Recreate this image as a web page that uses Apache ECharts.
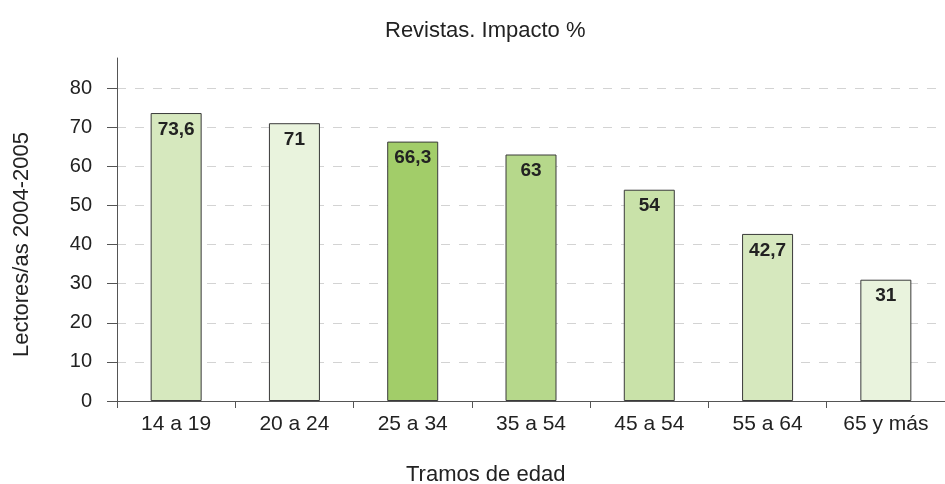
<!DOCTYPE html>
<html>
<head>
<meta charset="utf-8">
<script src="https://cdn.jsdelivr.net/npm/echarts@6/dist/echarts.min.js"></script>
<style>html,body{margin:0;padding:0;background:#fff}#c{width:945px;height:484px}</style>
</head>
<body>
<div id="c"></div>
<script>
const categories = ['14 a 19', '20 a 24', '25 a 34', '35 a 54', '45 a 54', '55 a 64', '65 y más'];
const values = [73.6, 71, 66.3, 63, 54, 42.7, 31];
const barColors = ['#d6e8be', '#e9f3dd', '#a2cd69', '#b6d88b', '#c9e2a9', '#d6e8be', '#e9f3dd'];
const yTicks = [0, 10, 20, 30, 40, 50, 60, 70, 80];

const chart = echarts.init(document.getElementById('c'));
const font = 'Liberation Sans, Helvetica, Arial, sans-serif';
chart.setOption({
  animation: false,
  title: [
    { text: 'Revistas. Impacto %', left: 380, top: 15, textStyle: { fontFamily: font, fontSize: 22, fontWeight: 'normal', color: '#222' } },
    { text: 'Tramos de edad', left: 401, top: 459, textStyle: { fontFamily: font, fontSize: 22, fontWeight: 'normal', color: '#222' } }
  ],
  grid: [
    { left: 117, top: 88, width: 836, height: 313 },
    { left: 117, top: 58, width: 836, height: 30 }
  ],
  xAxis: [
    {
      type: 'category', data: categories, gridIndex: 0,
      axisLine: { lineStyle: { color: '#555', width: 1 } },
      axisTick: { show: true, length: 7, lineStyle: { color: '#555' } },
      axisLabel: { fontFamily: font, fontSize: 21, color: '#222', margin: 13 }
    },
    { type: 'category', gridIndex: 1, show: false, data: categories }
  ],
  yAxis: [
    {
      type: 'value', gridIndex: 0, min: 0, max: 80, interval: 10,
      name: 'Lectores/as 2004-2005', nameLocation: 'middle', nameGap: 84,
      nameTextStyle: { fontFamily: font, fontSize: 22, color: '#222' },
      axisLine: { show: true, lineStyle: { color: '#555', width: 1 } },
      axisTick: { show: true, length: 10, lineStyle: { color: '#555' } },
      axisLabel: { fontFamily: font, fontSize: 20, color: '#222', margin: 25,
        formatter: v => yTicks.includes(v) ? String(v) : '' },
      splitLine: { show: true, lineStyle: { color: '#d3d3d3', type: [9, 9], width: 1 } }
    },
    {
      type: 'value', gridIndex: 1, min: 0, max: 1,
      axisLine: { show: true, lineStyle: { color: '#555', width: 1 } },
      axisTick: { show: false }, axisLabel: { show: false }, splitLine: { show: false }
    }
  ],
  series: [{
    type: 'bar', xAxisIndex: 0, yAxisIndex: 0, barWidth: 51,
    data: values.map((v, i) => ({ value: v, itemStyle: { color: barColors[i] } })),
    itemStyle: { borderColor: '#3a3a3a', borderWidth: 1 },
    label: {
      show: true, position: 'insideTop', distance: 7,
      fontFamily: 'Liberation Sans Narrow, Arial Narrow, Liberation Sans, sans-serif',
      fontSize: 19, fontWeight: 'bold', color: '#222',
      formatter: p => String(p.value).replace('.', ',')
    }
  }]
});
</script>
</body>
</html>
